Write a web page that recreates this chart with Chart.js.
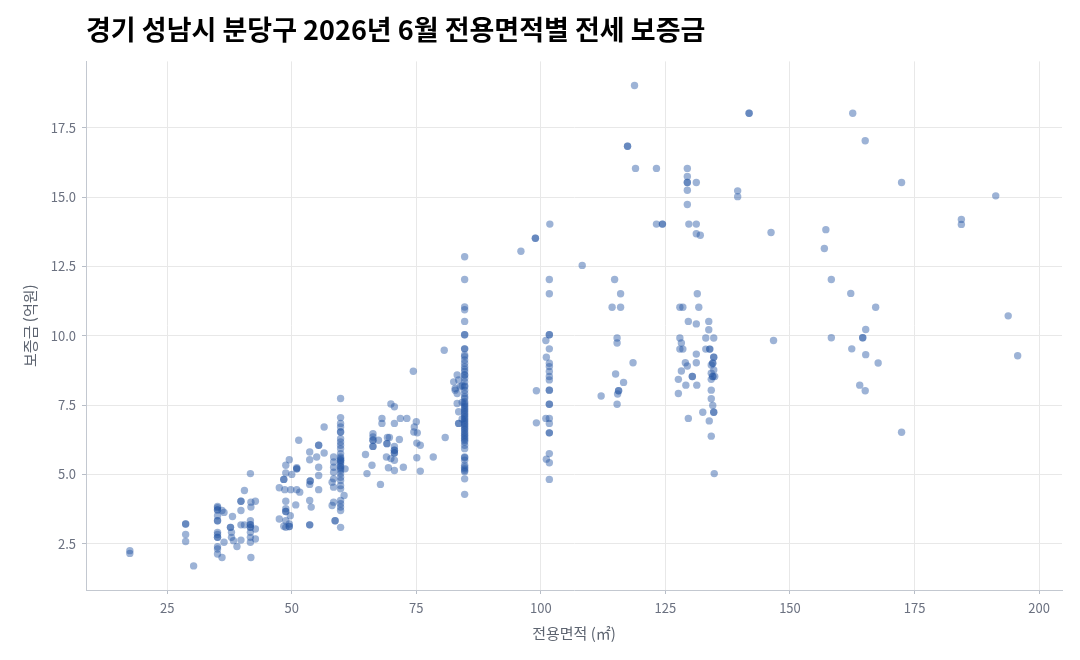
<!DOCTYPE html>
<html lang="ko">
<head>
<meta charset="utf-8">
<title>분당구 전용면적별 전세 보증금</title>
<script src="https://cdn.jsdelivr.net/npm/chart.js@4.4.1/dist/chart.umd.min.js"></script>
<style>
  html, body { margin: 0; padding: 0; background: #fff; }
  #wrap { width: 1080px; height: 660px; }
</style>
</head>
<body>
<div id="wrap"><canvas id="scatterChart" width="1080" height="660"></canvas></div>
<script>
// [전용면적(㎡), 보증금(억원)]
const smallUnits = [
  [17.5,2.25],[17.5,2.15],
  [28.7,3.21],[28.7,3.21],[28.7,2.83],[28.7,2.58],[30.3,1.70],
  [35.1,3.84],[35.1,3.80],[35.1,3.72],[35.1,3.72],[35.1,3.51],[35.1,3.33],[35.1,3.33],[35.1,2.91],[35.1,2.83],
  [35.1,2.73],[35.1,2.73],[35.1,2.39],[35.1,2.31],[35.1,2.13],
  [36.0,3.70],[36.4,3.63],[36.0,2.00],[36.4,2.55],
  [38.1,3.48],[37.7,3.09],[37.7,3.09],[37.9,2.91],[37.9,2.73],[38.3,2.61],[39.0,2.40],
  [39.8,4.03],[39.8,4.03],[39.8,3.70],[40.5,4.42],[39.8,3.18],[40.5,3.18],[39.8,2.63],
  [41.7,5.03],[41.8,4.00],[42.7,4.03],[41.8,3.82],[41.7,3.33],[41.7,3.19],[41.7,3.19],[41.7,3.09],[41.7,3.09],
  [42.7,3.03],[41.7,2.91],[41.7,2.73],[41.7,2.55],[42.7,2.67],[41.8,2.00]
];

const units50 = [
  [49.5,5.53],[48.8,5.33],[48.8,5.05],[51.0,5.24],[51.0,5.20],[51.0,5.20],[50.0,5.00],[48.4,4.82],[48.4,4.82],
  [47.5,4.52],[48.6,4.45],[49.8,4.45],[51.0,4.45],[51.6,4.36],[48.8,4.03],[50.8,3.90],[48.8,3.76],[48.8,3.66],
  [48.8,3.66],[49.7,3.51],[47.5,3.39],[48.8,3.33],[49.5,3.21],[49.5,3.12],[49.5,3.12],[48.4,3.13],[48.8,3.09],
  [51.4,6.23],
  [53.6,5.81],[56.5,5.77],[55.0,5.63],[53.6,5.53],[55.4,5.26],[55.4,4.96],[53.7,4.76],[53.7,4.76],[55.4,4.45],
  [53.6,4.06],[53.9,3.82],[53.6,3.18],[53.6,3.18],[56.5,6.71],[55.4,6.05],[55.4,6.05],[53.6,4.64],
  [58.4,5.63],[58.4,5.45],[58.4,5.26],[58.4,5.08],[58.4,4.84],[58.1,4.72],[58.4,4.54],[58.4,4.00],[58.1,3.88],
  [58.7,3.33],[58.7,3.33]
];

const units60 = [
  [59.8,7.74],[59.8,7.05],[59.8,6.84],[59.8,6.71],[59.8,6.53],[59.8,6.53],[59.8,6.29],[59.8,6.17],[59.8,6.05],
  [59.8,5.93],[59.8,5.75],[59.8,5.63],[59.8,5.58],[59.8,5.51],[59.8,5.51],[59.8,5.45],[59.8,5.39],[59.8,5.30],
  [59.8,5.26],[59.8,5.20],[59.8,5.14],[59.8,5.03],[59.8,4.90],[59.8,4.78],[59.8,4.60],[59.8,4.48],[59.8,4.06],
  [59.8,3.94],[59.8,3.82],[59.8,3.70],[59.8,3.09],[60.7,5.20],[60.5,4.24],
  [64.8,5.72],[65.1,5.03],[66.3,6.47],[66.3,6.35],[66.3,6.23],[66.3,6.23],[66.3,6.01],[66.3,6.01],[67.4,6.23],
  [68.1,7.02],[68.1,6.84],[69.1,6.11],[69.1,6.11],[69.6,6.33],[69.2,6.33],[70.6,6.84],[71.8,7.02],[73.1,7.02],
  [70.6,6.01],[70.6,5.87],[70.6,5.87],[70.6,5.77],[70.6,5.77],[69.0,5.63],[69.9,5.57],[70.6,5.51],[69.4,5.24],
  [70.6,5.14],[67.8,4.64],[66.1,5.33],[71.6,6.26],[72.4,5.26],[75.0,6.90],[74.6,6.71],[74.5,6.53],[75.2,6.50],
  [75.1,6.13],[75.8,6.05],[75.1,5.60],[75.8,5.12],[78.4,5.63],[80.8,6.33],[69.9,7.54],[70.6,7.44],[74.4,8.72],
  [80.6,9.48]
];

const units85 = [
  [84.7,12.85],[84.7,12.03],[84.7,11.04],[84.7,10.94],[84.7,10.52],[84.7,10.04],[84.7,10.04],[84.7,9.53],[84.7,9.53],
  [84.7,9.31],[84.7,9.25],[84.7,9.13],[84.7,9.01],[84.7,8.89],[84.7,8.80],[84.7,8.71],[84.7,8.59],[84.7,8.59],
  [84.7,8.47],[84.7,8.34],[84.7,8.20],[84.7,8.16],[84.7,8.04],[84.7,7.92],[84.7,7.80],[84.7,7.74],[84.7,7.62],
  [84.7,7.56],[84.7,7.50],[84.7,7.44],[84.7,7.38],[84.7,7.32],[84.7,7.26],[84.7,7.20],[84.7,7.14],[84.7,7.08],
  [84.7,7.02],[84.7,6.96],[84.7,6.90],[84.7,6.84],[84.7,6.78],[84.7,6.72],[84.7,6.66],[84.7,6.60],[84.7,6.53],
  [84.7,6.47],[84.7,6.41],[84.7,6.35],[84.7,6.29],[84.7,6.23],[84.7,6.17],[84.7,6.05],[84.7,5.93],[84.7,5.63],
  [84.7,5.60],[84.7,5.51],[84.7,5.33],[84.7,5.26],[84.7,5.20],[84.7,5.14],[84.7,5.10],[84.7,4.84],[84.7,4.28],
  [83.2,8.59],[82.5,8.34],[83.5,8.41],[82.8,8.04],[83.8,8.16],[83.2,7.92],[83.2,7.56],[83.5,7.26],[83.5,6.84],
  [83.5,6.84],[82.8,8.10],[84.2,8.20],[84.2,7.00],[84.2,7.60]
];

const largeUnits = [
  [96.0,13.05],[98.9,13.52],[98.9,13.52],[101.8,14.03],[99.1,8.02],[99.1,6.86],
  [101.7,12.03],[101.7,11.52],[101.7,10.04],[101.7,10.04],[101.7,9.53],[101.7,9.01],[101.7,8.89],[101.7,8.71],
  [101.7,8.53],[101.7,8.41],[101.7,8.04],[101.7,8.04],[101.7,7.53],[101.7,7.53],[101.7,7.02],[101.7,6.84],
  [101.7,6.50],[101.7,6.50],[101.7,5.75],[101.7,5.42],[101.7,4.82],
  [101.0,9.83],[101.1,9.23],[101.1,5.55],[101.0,7.02],
  [108.3,12.54],[114.8,12.03],[116.0,11.52],[114.3,11.03],[116.0,11.03],[115.3,9.92],[115.3,9.74],[118.5,9.03],
  [115.0,8.62],[116.6,8.32],[115.6,8.02],[115.6,8.02],[115.4,7.90],[112.1,7.83],[115.3,7.53],
  [118.8,19.03],[117.4,16.84],[117.4,16.84],[119.0,16.04],[123.2,16.04],[123.2,14.03],[124.4,14.03],[124.4,14.03]
];

const units130 = [
  [129.4,16.04],[129.4,15.75],[129.4,15.53],[129.4,15.53],[131.2,15.53],[129.4,15.25],[129.4,14.74],[129.7,14.03],
  [131.2,14.03],[131.2,13.68],[132.0,13.63],
  [131.4,11.52],[127.9,11.03],[128.5,11.03],[131.7,11.03],[129.6,10.52],[131.2,10.43],[133.7,10.52],[133.7,10.22],
  [127.9,9.92],[128.2,9.74],[127.9,9.52],[128.5,9.52],[133.1,9.92],[134.7,9.92],[133.1,9.52],[133.9,9.52],[133.9,9.52],
  [131.2,9.34],[134.7,9.23],[134.7,9.23],[134.5,9.01],[134.5,9.01],[134.2,8.95],[134.7,8.77],[134.2,8.65],[134.5,8.53],
  [134.5,8.53],[134.9,8.53],[129.0,9.03],[129.4,8.91],[131.2,9.03],[128.2,8.73],[130.4,8.53],[130.4,8.53],[127.6,8.43],
  [129.1,8.22],[131.3,8.22],[127.6,7.92],[134.2,8.43],[134.2,8.04],[134.2,7.73],[134.5,7.49],[134.7,7.24],[134.7,7.24],
  [132.5,7.24],[129.6,7.02],[133.8,6.93],[134.2,6.38],[134.8,5.03]
];

const xlUnits = [
  [139.5,15.23],[139.5,15.02],[141.8,18.03],[141.8,18.03],[162.6,18.03],[165.1,17.04],[172.4,15.53],[191.3,15.05],
  [184.4,14.20],[184.4,14.02],[146.2,13.73],[157.2,13.83],[156.9,13.15],[158.3,12.03],[162.2,11.53],[167.2,11.03],
  [193.8,10.72],[165.2,10.23],[158.3,9.93],[164.6,9.93],[164.6,9.93],[146.7,9.83],[162.4,9.53],[165.2,9.32],
  [167.7,9.02],[195.7,9.28],[164.0,8.22],[165.1,8.02],[172.4,6.52]
];

const xTicks = [25, 50, 75, 100, 125, 150, 175, 200];
const yTicks = [2.5, 5.0, 7.5, 10.0, 12.5, 15.0, 17.5];

const KR_FONT = '"Noto Sans CJK KR", "Noto Sans", sans-serif';

document.addEventListener('DOMContentLoaded', function() {
    const allPoints = [].concat(smallUnits, units50, units60, units85, largeUnits, units130, xlUnits)
        .map(p => ({ x: p[0], y: p[1] }));

    const ctx = document.getElementById('scatterChart').getContext('2d');
    new Chart(ctx, {
        type: 'scatter',
        data: {
            datasets: [{
                label: '보증금',
                data: allPoints,
                backgroundColor: 'rgba(38, 86, 164, 0.45)',
                borderWidth: 0,
                pointRadius: 3.7,
                pointHoverRadius: 3.7
            }]
        },
        options: {
            responsive: false,
            animation: false,
            events: [],
            layout: { padding: { left: 0, right: 18, top: 0, bottom: 0 } },
            plugins: {
                legend: { display: false },
                tooltip: { enabled: false },
                title: {
                    display: true,
                    text: '경기 성남시 분당구 2026년 6월 전용면적별 전세 보증금',
                    align: 'start',
                    fullSize: false,
                    color: '#000',
                    font: { family: KR_FONT, size: 27, weight: 'bold' },
                    padding: { top: 14, bottom: 15 }
                }
            },
            scales: {
                x: {
                    type: 'linear',
                    min: 8.7,
                    max: 204.6,
                    afterBuildTicks: s => { s.ticks = xTicks.map(v => ({ value: v })); },
                    afterFit: s => { s.height = 70; },
                    grid: { color: '#e8e8e8', tickColor: '#b8bec8', tickLength: 4 },
                    border: { color: '#c3c8d0' },
                    ticks: {
                        color: '#6b7180',
                        padding: 6,
                        font: { family: KR_FONT, size: 13 },
                        callback: v => String(v)
                    },
                    title: {
                        display: true,
                        text: '전용면적 (㎡)',
                        color: '#5d6470',
                        font: { family: KR_FONT, size: 15 },
                        padding: { top: 0, bottom: 18 }
                    }
                },
                y: {
                    type: 'linear',
                    min: 0.83,
                    max: 19.9,
                    afterBuildTicks: s => { s.ticks = yTicks.map(v => ({ value: v })); },
                    afterFit: s => { s.width = 86; },
                    grid: { color: '#e8e8e8', tickColor: '#b8bec8', tickLength: 4 },
                    border: { color: '#c3c8d0' },
                    ticks: {
                        color: '#6b7180',
                        padding: 6,
                        font: { family: KR_FONT, size: 13 },
                        callback: v => v.toFixed(1)
                    },
                    title: {
                        display: true,
                        text: '보증금 (억원)',
                        color: '#5d6470',
                        font: { family: KR_FONT, size: 15 },
                        padding: { top: 21, bottom: 0 }
                    }
                }
            }
        }
    });
});
</script>
</body>
</html>
